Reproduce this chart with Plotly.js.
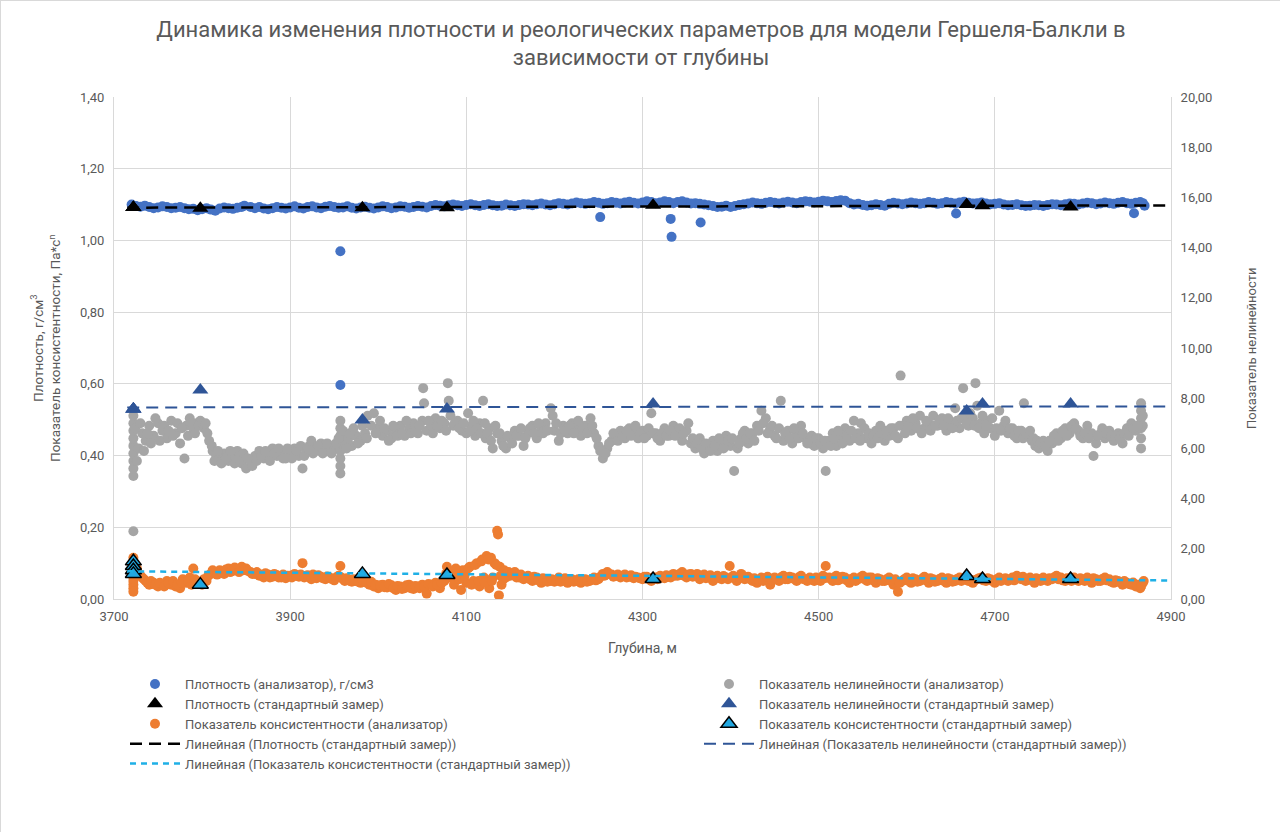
<!DOCTYPE html>
<html>
<head>
<meta charset="utf-8">
<script src="https://cdn.plot.ly/plotly-3.0.1.min.js"></script>
<style>
  html, body { margin: 0; padding: 0; background: #fff; }
  #chart { width: 1280px; height: 832px; box-sizing: border-box; border: 1px solid #d9d9d9; }
</style>
</head>
<body>
<div id="chart"></div>
<script>
// глубина, м / значение
const densityAnalyzer = [
  [3720,1.100],[3725,1.096],[3730,1.094],[3740,1.093],[3750,1.092],[3760,1.093],[3770,1.091],[3780,1.090],[3790,1.088],[3795,1.084],
  [3800,1.087],[3810,1.086],[3820,1.089],[3830,1.090],[3840,1.091],[3848,1.097],[3855,1.093],[3860,1.090],[3870,1.089],[3880,1.090],
  [3890,1.091],[3900,1.092],[3910,1.091],[3920,1.093],[3930,1.092],[3940,1.094],[3950,1.093],[3960,1.092],[3970,1.091],[3980,1.092],
  [3990,1.091],[4000,1.092],[4010,1.093],[4020,1.092],[4030,1.094],[4040,1.093],[4050,1.094],[4060,1.096],[4070,1.097],[4080,1.098],
  [4090,1.098],[4100,1.099],[4110,1.098],[4120,1.099],[4130,1.098],[4140,1.097],[4150,1.098],[4160,1.099],[4170,1.100],[4180,1.101],
  [4190,1.100],[4200,1.101],[4210,1.102],[4220,1.103],[4230,1.104],[4240,1.104],[4250,1.105],[4260,1.104],[4270,1.105],[4280,1.106],
  [4290,1.105],[4300,1.106],[4310,1.107],[4320,1.106],[4330,1.107],[4340,1.107],[4350,1.106],[4360,1.104],[4370,1.100],[4380,1.096],
  [4390,1.094],[4400,1.093],[4410,1.099],[4420,1.103],[4430,1.104],[4440,1.105],[4450,1.105],[4460,1.106],[4470,1.106],[4480,1.107],
  [4490,1.108],[4500,1.108],[4510,1.109],[4520,1.110],[4530,1.111],[4535,1.104],[4540,1.100],[4550,1.099],[4560,1.098],[4570,1.099],
  [4580,1.102],[4590,1.103],[4600,1.103],[4610,1.104],[4620,1.104],[4630,1.105],[4640,1.104],[4650,1.105],[4660,1.106],[4670,1.105],
  [4680,1.104],[4690,1.103],[4700,1.102],[4710,1.100],[4720,1.099],[4730,1.098],[4740,1.097],[4750,1.098],[4760,1.099],[4770,1.100],
  [4780,1.101],[4790,1.102],[4800,1.103],[4810,1.104],[4820,1.103],[4830,1.104],[4840,1.105],[4850,1.104],[4860,1.105],[4868,1.104],
  [4870,1.097],
  [3735,1.097],[3745,1.090],[3755,1.095],[3765,1.090],[3775,1.093],[3785,1.087],[3805,1.090],[3815,1.083],[3825,1.092],[3835,1.088],
  [3845,1.093],[3865,1.093],[3875,1.087],[3885,1.093],[3895,1.089],[3905,1.095],[3915,1.089],[3925,1.095],[3935,1.090],[3945,1.096],
  [3955,1.091],[3965,1.095],[3975,1.089],[3985,1.094],[3995,1.089],[4005,1.095],[4015,1.090],[4025,1.095],[4035,1.091],[4045,1.096],
  [4055,1.092],[4065,1.099],[4075,1.095],[4085,1.100],[4095,1.096],[4105,1.101],[4115,1.096],[4125,1.101],[4135,1.096],[4145,1.100],
  [4155,1.096],[4165,1.101],[4175,1.098],[4185,1.103],[4195,1.098],[4205,1.104],[4215,1.100],[4225,1.106],[4235,1.102],[4245,1.107],
  [4255,1.102],[4265,1.107],[4275,1.103],[4285,1.108],[4295,1.103],[4305,1.109],[4315,1.104],[4325,1.109],[4335,1.104],[4345,1.109],
  [4355,1.103],[4365,1.102],[4375,1.098],[4385,1.093],[4395,1.097],[4405,1.096],[4415,1.101],[4425,1.106],[4435,1.102],[4445,1.107],
  [4455,1.103],[4465,1.108],[4475,1.104],[4485,1.109],[4495,1.106],[4505,1.111],[4515,1.107],[4525,1.112],[4545,1.102],[4555,1.097],
  [4565,1.101],[4575,1.097],[4585,1.105],[4595,1.101],[4605,1.106],[4615,1.102],[4625,1.107],[4635,1.102],[4645,1.107],[4655,1.103],
  [4665,1.108],[4675,1.103],[4685,1.106],[4695,1.101],[4705,1.104],[4715,1.098],[4725,1.101],[4735,1.096],[4745,1.099],[4755,1.096],
  [4765,1.101],[4775,1.098],[4785,1.103],[4795,1.100],[4805,1.105],[4815,1.101],[4825,1.106],[4835,1.102],[4845,1.107],[4855,1.102],
  [4865,1.107],
  [3957,0.970],[3957,0.597],[4252,1.065],[4332,1.060],[4333,1.010],[4366,1.050],[4656,1.075],[4858,1.076]
];

const nonlinAnalyzer = [
  [3722,4.9],[3722,5.2],[3722,5.5],[3722,5.8],[3722,6.1],[3722,6.4],[3722,6.7],[3722,7.0],[3722,7.3],[3722,2.7],
  [3728,6.0],[3732,6.6],[3736,6.3],[3740,6.9],[3745,6.5],[3750,7.0],[3755,6.7],[3760,6.4],[3765,7.1],[3770,6.6],
  [3775,6.2],[3780,5.6],[3782,6.9],[3786,7.2],[3790,6.8],[3794,7.0],[3798,7.1],[3802,6.8],[3806,6.6],
  [3812,5.9],[3816,5.7],[3820,5.6],[3825,5.8],[3830,5.5],[3835,5.7],[3840,5.9],[3845,5.4],[3850,5.2],[3855,5.5],
  [3860,5.7],[3865,5.9],[3870,5.6],[3875,5.8],[3880,6.0],[3885,5.7],[3890,5.9],[3895,5.6],[3900,5.8],
  [3905,6.0],[3910,5.7],[3914,5.2],[3918,5.9],[3922,6.1],[3926,5.8],[3930,6.0],[3935,6.2],[3940,5.9],[3945,6.1],[3950,6.0],
  [3957,5.0],[3957,5.3],[3957,5.6],[3957,5.9],[3957,6.2],[3957,6.5],[3957,6.8],[3957,7.1],
  [3962,6.2],[3966,6.4],[3970,6.1],[3975,6.5],[3980,6.3],[3985,6.6],[3988,7.3],[3995,7.4],[4000,6.8],[4005,6.5],
  [4010,6.7],[4015,6.4],[4020,6.6],[4025,6.9],[4030,6.5],[4035,6.8],[4040,7.0],[4045,6.6],[4050,7.1],[4051,8.4],
  [4052,7.8],[4055,6.7],[4060,6.9],[4065,7.2],[4070,6.8],[4075,7.0],[4079,8.6],[4080,7.9],[4082,7.3],[4085,6.9],
  [4090,7.1],[4095,6.7],[4100,6.6],[4102,7.4],[4106,6.9],[4110,6.5],[4115,7.0],[4119,7.9],[4122,6.4],[4126,6.8],
  [4130,6.0],[4135,6.6],[4140,6.3],[4145,6.0],[4150,6.4],[4155,6.7],[4160,6.5],[4165,6.1],[4170,6.6],[4175,6.9],
  [4180,6.4],[4185,6.8],[4190,7.0],[4196,7.6],[4198,7.3],[4200,6.7],[4205,6.3],[4210,6.9],[4215,6.6],[4220,7.0],
  [4225,6.8],[4230,6.5],[4235,6.9],[4241,7.2],[4245,6.6],[4250,6.1],[4255,5.6],[4260,6.0],[4265,6.3],[4270,6.5],
  [4275,6.7],[4280,6.4],[4285,6.8],[4290,6.6],[4295,6.4],[4300,6.7],[4305,6.5],[4310,7.4],[4315,6.6],[4320,6.3],
  [4325,6.8],[4330,6.5],[4335,6.9],[4340,6.6],[4345,6.3],[4350,6.7],[4352,7.0],[4355,6.2],[4360,6.0],[4365,6.4],
  [4370,5.8],[4375,6.1],[4380,6.3],[4385,5.9],[4390,6.2],[4395,6.5],[4400,6.1],[4404,5.1],[4408,6.0],[4412,6.4],
  [4416,6.7],[4420,6.2],[4425,6.6],[4430,6.9],[4435,7.5],[4440,7.2],[4445,6.8],[4450,6.5],[4457,7.9],[4460,6.3],
  [4465,6.7],[4470,6.2],[4475,6.6],[4480,6.9],[4485,6.4],[4490,6.2],[4495,6.1],[4500,6.4],[4505,6.0],[4508,5.1],
  [4512,6.3],[4516,6.6],[4520,6.1],[4525,6.5],[4530,6.8],[4535,6.3],[4540,7.1],[4545,6.6],[4548,7.0],[4550,6.4],
  [4555,6.4],[4560,6.2],[4565,6.7],[4570,6.9],[4575,6.3],[4580,6.5],[4585,6.8],[4590,6.4],[4593,8.9],[4596,6.9],
  [4600,7.1],[4605,6.7],[4610,7.0],[4615,7.3],[4620,6.8],[4625,7.0],[4630,7.3],[4635,6.9],[4640,7.2],[4645,6.7],
  [4650,7.0],[4655,7.6],[4660,6.8],[4664,8.4],[4666,7.3],[4670,6.9],[4675,7.2],[4678,8.6],[4680,7.7],[4684,7.0],
  [4688,6.6],[4692,7.1],[4695,6.8],[4700,6.5],[4705,7.5],[4710,6.9],[4715,6.6],[4720,6.8],[4725,6.4],[4730,6.7],
  [4733,7.8],[4738,6.5],[4742,6.3],[4746,6.1],[4750,6.0],[4755,6.3],[4760,5.9],[4765,6.2],[4770,6.6],[4775,6.4],
  [4780,6.8],[4785,6.6],[4790,7.0],[4795,6.7],[4800,6.4],[4805,6.9],[4810,6.6],[4812,5.7],[4815,6.2],[4820,6.6],
  [4825,6.4],[4830,6.7],[4835,6.3],[4840,6.6],[4845,6.2],[4850,6.8],[4855,7.0],[4860,6.7],
  [4866,6.0],[4866,6.4],[4866,6.8],[4866,7.2],[4866,7.5],[4866,7.8],[4868,6.9],[4868,7.3],
  [3724,6.8],[3726,5.5],[3730,7.0],[3734,5.9],[3738,6.6],[3742,6.2],[3747,7.2],[3752,6.3],[3757,6.9],[3762,6.7],
  [3767,6.5],[3772,7.0],[3777,6.8],[3784,6.5],[3788,7.0],[3792,6.6],[3796,6.9],[3800,7.0],[3804,7.0],[3808,6.3],
  [3811,6.1],[3814,5.5],[3818,5.9],[3822,5.4],[3827,5.6],[3832,5.9],[3837,5.4],[3842,5.6],[3847,5.8],[3852,5.6],
  [3857,5.3],[3862,5.5],[3867,5.7],[3872,5.9],[3877,5.5],[3882,5.8],[3887,6.0],[3892,5.6],[3897,6.0],
  [3902,5.6],[3907,5.9],[3912,6.1],[3916,5.7],[3920,6.0],[3924,6.3],[3928,5.9],[3932,6.1],[3937,5.8],[3942,6.2],
  [3947,5.8],[3952,6.2],[3955,6.4],
  [3960,6.7],[3964,6.0],[3968,6.6],[3972,6.8],[3977,6.2],[3982,6.9],[3987,6.4],[3992,6.9],[3997,6.6],[4002,7.1],
  [4007,6.8],[4012,6.3],[4017,6.9],[4022,6.5],[4027,6.6],[4032,7.1],[4037,6.6],[4042,6.7],[4047,6.9],[4057,7.1],
  [4062,6.6],[4067,6.9],[4072,7.1],[4077,6.7],[4087,7.0],[4092,6.8],[4097,7.0],
  [4104,6.7],[4108,7.1],[4112,6.8],[4117,6.6],[4121,7.0],[4124,6.6],[4128,6.3],[4133,6.9],[4138,6.6],[4142,6.1],
  [4147,6.5],[4152,6.2],[4157,6.5],[4162,6.8],[4167,6.4],[4172,6.8],[4177,6.6],[4182,7.0],[4187,6.6],[4192,6.7],
  [4202,7.0],[4207,6.6],[4212,6.7],[4217,6.9],[4222,6.6],[4227,7.1],[4232,6.8],[4237,6.6],[4243,6.9],[4248,6.4],
  [4252,5.9],[4258,5.8],[4262,6.2],[4267,6.6],[4272,6.3],[4277,6.5],[4282,6.7],[4287,6.5],[4292,6.9],[4297,6.6],
  [4302,6.4],[4307,6.8],[4312,6.6],[4317,6.4],[4322,6.6],[4327,6.5],[4332,6.7],[4337,6.5],[4342,6.8],[4347,6.6],
  [4357,6.4],[4362,6.2],[4367,6.0],[4372,6.2],[4377,5.9],[4382,6.1],[4387,6.4],[4392,6.0],[4397,6.3],[4402,6.4],
  [4410,6.2],[4414,6.6],[4418,6.4],[4422,6.6],
  [4427,6.3],[4432,6.7],[4437,7.0],[4442,6.6],[4447,6.9],[4452,6.4],[4455,6.8],[4462,6.6],[4467,6.4],[4472,6.8],
  [4477,6.4],[4482,6.6],[4487,6.2],[4492,6.5],
  [4497,6.4],[4502,6.2],[4507,6.3],[4514,6.1],[4518,6.4],[4522,6.7],[4527,6.2],[4532,6.5],[4537,6.7],[4542,6.4],
  [4547,6.3],[4552,6.8],[4557,6.6],[4562,6.5],[4567,6.4],[4572,6.6],[4577,6.7],[4582,6.8],[4587,6.5],[4592,6.9],
  [4598,6.6],[4602,6.9],[4607,7.2],[4612,6.8],[4617,6.6],[4622,7.1],[4627,6.7],[4632,6.9],[4637,7.1],[4642,6.9],
  [4647,7.2],[4652,6.8],[4657,7.1],[4662,7.2],[4668,7.0],[4672,7.4],[4677,6.9],[4682,6.8],[4686,7.3],[4690,6.9],
  [4697,7.2],[4702,6.8],
  [4707,6.7],[4712,7.1],[4717,6.8],[4722,6.5],[4727,6.7],[4732,6.4],[4736,6.6],[4740,6.7],[4744,6.4],[4748,6.3],
  [4752,6.2],[4757,6.1],[4762,6.3],
  [4767,6.5],[4772,6.3],[4777,6.7],[4782,6.5],[4787,6.9],[4792,6.8],[4797,6.5],[4802,6.6],[4807,6.4],[4817,6.5],
  [4822,6.8],[4827,6.6],[4832,6.5],[4837,6.5],[4842,6.4],[4847,6.6],[4852,6.5],[4857,6.8],[4862,6.9]
];

const consAnalyzer = [
  [3722,0.115],[3722,0.100],[3722,0.090],[3722,0.080],[3722,0.070],[3722,0.060],[3722,0.050],[3722,0.040],[3722,0.030],[3722,0.020],
  [3728,0.070],[3732,0.060],[3736,0.050],[3740,0.040],[3745,0.045],[3750,0.035],[3755,0.040],[3760,0.050],[3765,0.040],[3770,0.035],
  [3775,0.030],[3778,0.055],[3782,0.045],[3786,0.060],[3790,0.085],[3794,0.050],[3800,0.040],[3805,0.050],[3810,0.070],[3815,0.075],
  [3820,0.080],[3825,0.070],[3830,0.085],[3835,0.078],[3840,0.082],[3845,0.090],[3850,0.085],[3855,0.075],[3860,0.070],[3865,0.065],
  [3870,0.060],[3875,0.068],[3880,0.062],[3885,0.066],[3890,0.060],[3895,0.058],[3900,0.065],[3905,0.070],[3910,0.062],[3914,0.100],
  [3918,0.065],[3922,0.060],[3926,0.068],[3930,0.058],[3935,0.062],[3940,0.055],[3945,0.060],[3950,0.052],[3957,0.092],[3958,0.060],
  [3962,0.050],[3966,0.055],[3970,0.048],[3975,0.052],[3980,0.045],[3985,0.060],[3990,0.040],[3995,0.035],[4000,0.030],[4005,0.040],
  [4010,0.032],[4015,0.038],[4020,0.025],[4025,0.035],[4030,0.030],[4035,0.040],[4040,0.028],[4045,0.035],[4050,0.040],[4055,0.015],
  [4060,0.040],[4065,0.045],[4070,0.030],[4075,0.050],[4078,0.090],[4082,0.060],[4086,0.040],[4090,0.070],[4094,0.025],
  [4096,0.080],[4100,0.045],[4104,0.090],[4108,0.050],[4112,0.100],[4115,0.035],[4118,0.110],[4120,0.060],[4123,0.120],[4126,0.030],
  [4128,0.115],[4130,0.060],[4132,0.100],[4135,0.190],[4136,0.180],[4137,0.010],[4138,0.090],[4140,0.040],[4143,0.080],[4146,0.070],
  [4150,0.065],[4155,0.075],[4160,0.060],[4165,0.055],[4170,0.065],[4175,0.050],[4180,0.060],[4185,0.045],[4190,0.055],[4195,0.050],
  [4200,0.048],[4205,0.060],[4210,0.052],[4215,0.045],[4220,0.055],[4225,0.050],[4230,0.045],[4235,0.055],[4240,0.050],[4245,0.060],
  [4250,0.055],[4255,0.070],[4260,0.075],[4265,0.068],[4270,0.065],[4275,0.060],[4280,0.068],[4285,0.062],[4290,0.058],[4295,0.060],
  [4300,0.055],[4305,0.062],[4310,0.050],[4315,0.060],[4320,0.065],[4325,0.058],[4330,0.062],[4335,0.070],[4340,0.065],[4345,0.075],
  [4350,0.060],[4355,0.070],[4360,0.065],[4365,0.055],[4370,0.068],[4375,0.060],[4380,0.050],[4385,0.065],[4390,0.055],[4395,0.060],
  [4399,0.092],[4403,0.065],[4407,0.050],[4412,0.070],[4416,0.055],[4420,0.062],[4425,0.050],[4430,0.045],[4435,0.060],[4440,0.055],
  [4445,0.040],[4450,0.060],[4455,0.050],[4460,0.065],[4465,0.055],[4470,0.060],[4475,0.050],[4480,0.065],[4485,0.055],[4490,0.060],
  [4495,0.050],[4500,0.055],[4505,0.065],[4508,0.092],[4512,0.060],[4516,0.050],[4520,0.065],[4525,0.055],[4530,0.060],[4535,0.045],
  [4540,0.060],[4545,0.055],[4550,0.065],[4555,0.050],[4560,0.060],[4565,0.045],[4570,0.055],[4575,0.050],[4580,0.060],[4585,0.040],
  [4590,0.020],[4595,0.050],[4600,0.060],[4605,0.045],[4610,0.055],[4615,0.050],[4620,0.062],[4625,0.045],[4630,0.055],[4635,0.050],
  [4640,0.060],[4645,0.045],[4650,0.055],[4655,0.050],[4660,0.060],[4665,0.055],[4670,0.050],[4675,0.045],[4680,0.055],[4685,0.060],
  [4690,0.050],[4695,0.055],[4700,0.045],[4705,0.060],[4710,0.055],[4715,0.050],[4720,0.060],[4725,0.065],[4730,0.055],[4735,0.050],
  [4740,0.060],[4745,0.045],[4750,0.055],[4755,0.060],[4760,0.050],[4765,0.055],[4770,0.065],[4775,0.060],[4780,0.050],[4785,0.055],
  [4790,0.060],[4795,0.050],[4800,0.055],[4805,0.060],[4810,0.045],[4815,0.055],[4820,0.050],[4825,0.060],[4830,0.055],[4835,0.045],
  [4840,0.050],[4845,0.040],[4850,0.045],[4855,0.040],[4860,0.035],[4865,0.030],[4868,0.045],
  [3724,0.095],[3726,0.085],[3730,0.065],[3734,0.055],[3738,0.045],[3742,0.050],[3747,0.040],[3752,0.045],[3757,0.035],[3762,0.045],
  [3767,0.050],[3772,0.040],[3777,0.045],[3784,0.050],[3788,0.040],[3792,0.055],[3797,0.045],[3802,0.055],[3807,0.065],[3812,0.080],
  [3817,0.068],[3822,0.075],[3827,0.082],[3832,0.075],[3837,0.088],[3842,0.075],[3847,0.080],[3852,0.078],[3857,0.070],[3862,0.075],
  [3867,0.068],[3872,0.072],[3877,0.060],[3882,0.070],[3887,0.060],[3892,0.068],[3897,0.065],[3902,0.060],[3907,0.065],[3912,0.068],
  [3916,0.060],[3920,0.066],[3924,0.055],[3928,0.062],[3932,0.066],[3937,0.058],[3942,0.063],[3947,0.056],[3952,0.060],[3955,0.065],
  [3960,0.055],[3964,0.058],[3968,0.050],[3972,0.055],[3977,0.048],[3982,0.052],[3987,0.045],[3992,0.048],[3997,0.040],[4002,0.038],
  [4007,0.033],[4012,0.042],[4017,0.030],[4022,0.036],[4027,0.028],[4032,0.038],[4037,0.030],[4042,0.036],[4047,0.030],[4052,0.035],
  [4057,0.042],[4062,0.035],[4067,0.040],[4072,0.045],[4077,0.070],[4080,0.075],[4084,0.065],[4088,0.085],[4092,0.055],[4098,0.065],
  [4102,0.085],[4106,0.040],[4110,0.095],[4114,0.050],[4117,0.105],[4121,0.045],[4125,0.110],[4129,0.050],[4134,0.095],[4139,0.065],
  [4142,0.055],[4145,0.060],[4148,0.075],[4152,0.070],[4157,0.060],[4162,0.068],[4167,0.060],[4172,0.055],[4177,0.062],[4182,0.052],
  [4187,0.058],[4192,0.048],[4197,0.055],[4202,0.052],[4207,0.048],[4212,0.058],[4217,0.052],[4222,0.048],[4227,0.055],[4232,0.050],
  [4237,0.048],[4242,0.055],[4247,0.052],[4252,0.062],[4257,0.065],[4262,0.070],[4267,0.062],[4272,0.068],[4277,0.065],[4282,0.060],
  [4287,0.066],[4292,0.062],[4297,0.058],[4302,0.062],[4307,0.056],[4312,0.060],[4317,0.055],[4322,0.060],[4327,0.066],[4332,0.060],
  [4337,0.065],[4342,0.070],[4347,0.065],[4352,0.068],[4357,0.062],[4362,0.070],[4367,0.062],[4372,0.058],[4377,0.066],[4382,0.060],
  [4387,0.058],[4392,0.064],[4397,0.055],[4402,0.060],[4410,0.060],[4414,0.065],[4418,0.058],[4422,0.055],[4427,0.058],[4432,0.052],
  [4437,0.050],[4442,0.062],[4447,0.052],[4452,0.056],[4457,0.060],[4462,0.055],[4467,0.062],[4472,0.056],[4477,0.060],[4482,0.056],
  [4487,0.050],[4492,0.056],[4497,0.060],[4502,0.050],[4507,0.058],[4514,0.055],[4518,0.060],[4522,0.052],[4527,0.062],[4532,0.052],
  [4537,0.056],[4542,0.050],[4547,0.060],[4552,0.055],[4557,0.060],[4562,0.052],[4567,0.058],[4572,0.050],[4577,0.055],[4582,0.050],
  [4587,0.055],[4592,0.045],[4597,0.055],[4602,0.050],[4607,0.058],[4612,0.048],[4617,0.056],[4622,0.052],[4627,0.058],[4632,0.048],
  [4637,0.056],[4642,0.050],[4647,0.058],[4652,0.048],[4657,0.056],[4662,0.050],[4667,0.058],[4672,0.054],[4677,0.052],[4682,0.058],
  [4687,0.052],[4692,0.058],[4697,0.050],[4702,0.055],[4707,0.050],[4712,0.058],[4717,0.055],[4722,0.052],[4727,0.058],[4732,0.062],
  [4737,0.055],[4742,0.052],[4747,0.058],[4752,0.050],[4757,0.055],[4762,0.058],[4767,0.060],[4772,0.055],[4777,0.052],[4782,0.058],
  [4787,0.050],[4792,0.055],[4797,0.058],[4802,0.050],[4807,0.052],[4812,0.058],[4817,0.050],[4822,0.056],[4827,0.052],[4832,0.048],
  [4837,0.052],[4842,0.046],[4847,0.050],[4852,0.042],[4857,0.046],[4862,0.040],[4866,0.035],[4869,0.050]
];

// стандартные замеры
const stdDepth   = [3722, 3722, 3722, 3722, 3798, 3982, 4078, 4312, 4668, 4686, 4786];
const stdDensity = [1.092, 1.092, 1.092, 1.092, 1.090, 1.091, 1.091, 1.098, 1.100, 1.097, 1.093];
const stdNonlin  = [7.57, 7.57, 7.57, 7.57, 8.33, 7.13, 7.57, 7.77, 7.49, 7.77, 7.77];
const stdCons    = [0.105, 0.092, 0.080, 0.070, 0.040, 0.070, 0.067, 0.056, 0.064, 0.056, 0.056];

const trendFrom = 3715, trendTo = 4900;

function linFit(xs, ys) {
  const n = xs.length;
  const mx = xs.reduce((a, b) => a + b, 0) / n;
  const my = ys.reduce((a, b) => a + b, 0) / n;
  let sxy = 0, sxx = 0;
  for (let i = 0; i < n; i++) {
    sxy += (xs[i] - mx) * (ys[i] - my);
    sxx += (xs[i] - mx) * (xs[i] - mx);
  }
  const k = sxy / sxx;
  return x => my + k * (x - mx);
}

function trend(ys) {
  const f = linFit(stdDepth, ys);
  return {x: [trendFrom, trendTo], y: [f(trendFrom), f(trendTo)]};
}

const col = p => p.map(d => d[0]);
const val = p => p.map(d => d[1]);

const tDens = trend(stdDensity), tNonlin = trend(stdNonlin), tCons = trend(stdCons);

const data = [
  {x: col(densityAnalyzer), y: val(densityAnalyzer), name: 'Плотность (анализатор), г/см3', mode: 'markers', type: 'scatter',
   marker: {color: '#4472C4', size: 10}, legend: 'legend'},
  {x: col(nonlinAnalyzer), y: val(nonlinAnalyzer), name: 'Показатель нелинейности (анализатор)', mode: 'markers', type: 'scatter',
   yaxis: 'y2', marker: {color: '#A5A5A5', size: 10}, legend: 'legend2'},
  {x: stdDepth, y: stdDensity, name: 'Плотность (стандартный замер)', mode: 'markers', type: 'scatter',
   marker: {color: '#000000', size: 14, symbol: 'triangle-up'}, legend: 'legend'},
  {x: stdDepth, y: stdNonlin, name: 'Показатель нелинейности (стандартный замер)', mode: 'markers', type: 'scatter',
   yaxis: 'y2', marker: {color: '#2F5597', size: 14, symbol: 'triangle-up'}, legend: 'legend2'},
  {x: col(consAnalyzer), y: val(consAnalyzer), name: 'Показатель консистентности (анализатор)', mode: 'markers', type: 'scatter',
   marker: {color: '#ED7D31', size: 10}, legend: 'legend'},
  {x: stdDepth, y: stdCons, name: 'Показатель консистентности (стандартный замер)', mode: 'markers', type: 'scatter',
   marker: {color: '#22A7E0', size: 14, symbol: 'triangle-up', line: {color: '#000000', width: 1.5}}, legend: 'legend2'},
  {x: tDens.x, y: tDens.y, name: 'Линейная (Плотность (стандартный замер))', mode: 'lines', type: 'scatter',
   line: {color: '#000000', width: 2.5, dash: '12px,7px'}, legend: 'legend'},
  {x: tNonlin.x, y: tNonlin.y, name: 'Линейная (Показатель нелинейности (стандартный замер))', mode: 'lines', type: 'scatter',
   yaxis: 'y2', line: {color: '#2F5597', width: 2, dash: '12px,7px'}, legend: 'legend2'},
  {x: tCons.x, y: tCons.y, name: 'Линейная (Показатель консистентности (стандартный замер))', mode: 'lines', type: 'scatter',
   line: {color: '#1FB0E6', width: 2.5, dash: '6px,5px'}, legend: 'legend'}
];

const fontFam = 'Roboto, "DejaVu Sans", sans-serif';
const grey = '#595959';

const legendBase = {
  orientation: 'v', xref: 'container', yref: 'container', yanchor: 'top', xanchor: 'left',
  font: {family: fontFam, size: 13, color: grey}, itemwidth: 50, tracegroupgap: 0, bgcolor: 'rgba(0,0,0,0)'
};

const layout = {
  width: 1280, height: 832,
  paper_bgcolor: '#ffffff', plot_bgcolor: '#ffffff',
  separators: ', ',
  font: {family: fontFam, color: grey},
  margin: {l: 113, r: 110, t: 96, b: 234, autoexpand: false},
  title: {
    text: 'Динамика изменения плотности и реологических параметров для модели Гершеля-Балкли в<br>зависимости от глубины',
    font: {family: fontFam, size: 22, color: grey},
    x: 0.5, xanchor: 'center', y: 0.957, yanchor: 'top', yref: 'container'
  },
  xaxis: {
    range: [3700, 4900], dtick: 200, tick0: 3700, showgrid: true, gridcolor: '#d9d9d9',
    showline: true, linecolor: '#d9d9d9', zeroline: false, ticks: '', ticklabelstandoff: 5,
    tickfont: {size: 13, color: grey},
    title: {text: 'Глубина, м', font: {size: 14, color: grey}, standoff: 20}
  },
  yaxis: {
    range: [0, 1.4], dtick: 0.2, tickformat: '.2f', showgrid: true, gridcolor: '#d9d9d9',
    showline: true, linecolor: '#d9d9d9', zeroline: false, ticks: '', ticklabelstandoff: 6,
    tickfont: {size: 13, color: grey}
  },
  yaxis2: {
    range: [0, 20], dtick: 2, tickformat: '.2f', overlaying: 'y', side: 'right', showgrid: false,
    showline: true, linecolor: '#d9d9d9', zeroline: false, ticks: '', ticklabelstandoff: 6,
    tickfont: {size: 13, color: grey}
  },
  annotations: [
    {text: 'Плотность, г/см<sup>3</sup><br>Показатель консистентности, Па*с<sup>n</sup>', textangle: -90,
     xref: 'paper', yref: 'paper', x: -0.0653, y: 0.5, xanchor: 'center', yanchor: 'middle', showarrow: false,
     font: {family: fontFam, size: 13.5, color: grey}},
    {text: 'Показатель нелинейности', textangle: -90,
     xref: 'paper', yref: 'paper', x: 1.0757, y: 0.5, xanchor: 'center', yanchor: 'middle', showarrow: false,
     font: {family: fontFam, size: 13, color: grey}}
  ],
  legend: Object.assign({}, legendBase, {x: 124 / 1280, y: 1 - 668 / 832}),
  legend2: Object.assign({}, legendBase, {x: 698 / 1280, y: 1 - 668 / 832}),
  showlegend: true
};

Plotly.newPlot('chart', data, layout, {displayModeBar: false, staticPlot: true});
</script>
</body>
</html>
